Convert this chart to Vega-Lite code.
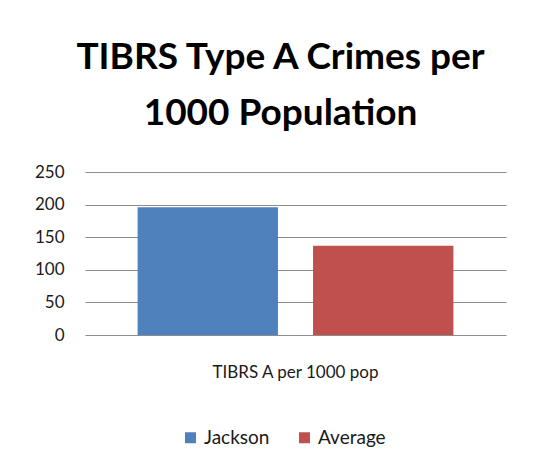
{
  "$schema": "https://vega.github.io/schema/vega-lite/v6.json",
  "autosize": {"type": "none"},
  "padding": {"left": 85, "top": 172, "right": 44, "bottom": 135},
  "width": 421,
  "height": 163,
  "background": "white",
  "title": {
    "text": ["TIBRS Type A Crimes per", "1000 Population"],
    "font": "Lato",
    "fontSize": 37,
    "fontWeight": "bold",
    "color": "#000000",
    "lineHeight": 56,
    "anchor": "middle",
    "dx": -15,
    "offset": 30
  },
  "data": {
    "values": [
      {"category": "TIBRS A per 1000 pop", "series": "Jackson", "value": 196},
      {"category": "TIBRS A per 1000 pop", "series": "Average", "value": 137}
    ]
  },
  "mark": {"type": "bar"},
  "encoding": {
    "x": {
      "field": "category",
      "type": "nominal",
      "scale": {"paddingInner": 0, "paddingOuter": 0},
      "axis": {
        "title": null,
        "labelAngle": 0,
        "labelFont": "Lato",
        "labelFontSize": 17,
        "labelColor": "#1a1a1a",
        "labelPadding": 29,
        "domain": false,
        "ticks": false
      }
    },
    "xOffset": {
      "field": "series",
      "type": "nominal",
      "sort": ["Jackson", "Average"],
      "scale": {"paddingInner": 0.2, "paddingOuter": 0.3}
    },
    "y": {
      "field": "value",
      "type": "quantitative",
      "scale": {"domain": [0, 250]},
      "axis": {
        "title": null,
        "values": [0, 50, 100, 150, 200, 250],
        "labelFont": "Lato",
        "labelFontSize": 17,
        "labelColor": "#1a1a1a",
        "labelPadding": 21,
        "domain": false,
        "ticks": false,
        "grid": true,
        "gridColor": "#8c8c8c",
        "gridWidth": 1
      }
    },
    "color": {
      "field": "series",
      "type": "nominal",
      "scale": {"domain": ["Jackson", "Average"], "range": ["#4F81BD", "#C0504D"]},
      "legend": {
        "title": null,
        "orient": "none",
        "direction": "horizontal",
        "legendX": 96,
        "legendY": 256,
        "symbolType": "square",
        "symbolSize": 121,
        "symbolStrokeWidth": 0,
        "symbolOpacity": 1,
        "labelFont": "Lato",
        "labelFontSize": 19,
        "labelColor": "#1a1a1a",
        "columnPadding": 25,
        "labelOffset": 4
      }
    }
  },
  "config": {
    "view": {"stroke": null}
  }
}
